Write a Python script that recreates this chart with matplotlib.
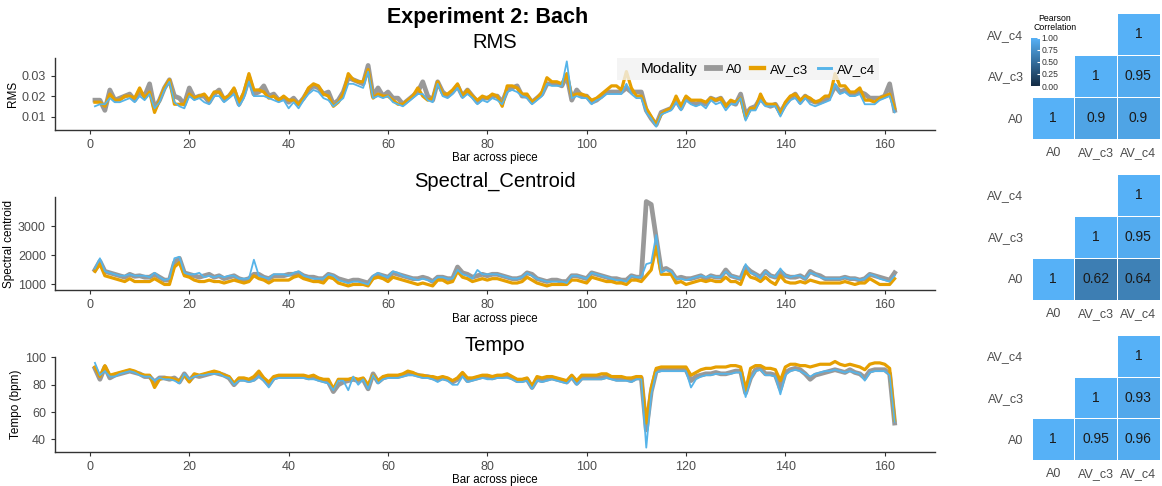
import matplotlib
matplotlib.use("Agg")
import matplotlib.pyplot as plt
import numpy as np
from matplotlib.colors import LinearSegmentedColormap
from matplotlib.lines import Line2D

plt.rcParams["font.family"] = ["Liberation Sans", "DejaVu Sans"]

bars = np.arange(1, 163)
modalities = ["A0", "AV_c3", "AV_c4"]
colors = {"A0": "#999999", "AV_c3": "#E69F00", "AV_c4": "#56B4E9"}
widths = {"A0": 3.4, "AV_c3": 2.3, "AV_c4": 1.3}

rms_a0 = [
    .018, .018, .013, .023, .018, .019, .020, .021, .018, .022,
    .020, .026, .014, .018, .024, .028, .020, .019, .016, .024,
    .019, .020, .020, .017, .021, .023, .018, .020, .023, .016,
    .021, .029, .021, .022, .025, .020, .021, .018, .019, .017,
    .019, .016, .019, .023, .025, .024, .021, .022, .016, .018,
    .022, .029, .028, .027, .026, .035, .020, .024, .020, .022,
    .019, .019, .016, .018, .020, .022, .027, .020, .018, .027,
    .022, .020, .022, .025, .020, .023, .020, .017, .019, .019,
    .020, .020, .017, .023, .024, .025, .020, .020, .017, .019,
    .021, .026, .026, .026, .025, .030, .018, .023, .020, .020,
    .017, .018, .020, .022, .022, .022, .022, .024, .022, .022,
    .022, .013, .009, .006, .012, .013, .014, .018, .014, .019,
    .017, .016, .017, .016, .019, .018, .019, .015, .017, .016,
    .021, .011, .014, .015, .019, .016, .015, .016, .012, .016,
    .019, .021, .017, .020, .018, .017, .017, .018, .020, .025,
    .022, .023, .021, .021, .022, .021, .019, .019, .019, .020,
    .026, .013]
rms_c3 = [
    .017, .017, .015, .021, .018, .018, .020, .020, .019, .024,
    .019, .022, .012, .018, .024, .028, .016, .016, .016, .021,
    .019, .020, .021, .018, .022, .022, .019, .020, .024, .017,
    .022, .031, .023, .023, .022, .019, .020, .018, .020, .018,
    .018, .016, .019, .024, .026, .025, .021, .020, .015, .017,
    .021, .031, .028, .027, .027, .033, .019, .021, .020, .020,
    .018, .016, .016, .018, .020, .024, .020, .018, .019, .027,
    .021, .021, .023, .026, .020, .023, .020, .018, .020, .019,
    .021, .020, .015, .025, .025, .024, .021, .021, .017, .019,
    .022, .029, .027, .027, .026, .031, .020, .021, .021, .020,
    .018, .019, .021, .023, .025, .025, .023, .032, .024, .020,
    .020, .014, .010, .006, .011, .013, .014, .020, .015, .020,
    .018, .018, .018, .017, .019, .018, .019, .015, .018, .017,
    .019, .009, .014, .014, .021, .016, .016, .016, .011, .017,
    .020, .021, .018, .020, .019, .017, .018, .020, .020, .031,
    .025, .025, .022, .022, .024, .018, .018, .017, .019, .020,
    .021, .014]
rms_c4 = [
    .015, .016, .016, .019, .017, .017, .018, .019, .017, .020,
    .018, .021, .014, .017, .023, .027, .017, .015, .014, .020,
    .018, .019, .017, .016, .020, .020, .017, .019, .021, .015,
    .019, .027, .020, .020, .020, .019, .018, .017, .018, .014,
    .017, .014, .018, .021, .023, .022, .019, .018, .015, .017,
    .019, .026, .026, .025, .024, .032, .019, .020, .019, .020,
    .017, .016, .015, .017, .019, .021, .021, .018, .017, .026,
    .020, .019, .021, .024, .019, .021, .019, .016, .018, .017,
    .019, .018, .016, .022, .023, .022, .020, .019, .016, .018,
    .020, .026, .025, .025, .025, .037, .019, .020, .019, .019,
    .016, .018, .019, .021, .021, .021, .021, .026, .021, .019,
    .019, .012, .009, .005, .011, .012, .013, .017, .013, .018,
    .016, .015, .016, .014, .018, .016, .017, .013, .016, .016,
    .019, .008, .013, .013, .018, .015, .015, .015, .010, .015,
    .018, .019, .016, .019, .016, .015, .016, .017, .018, .026,
    .021, .022, .020, .020, .021, .016, .016, .016, .018, .019,
    .020, .012]

sc_a0 = [
    1500, 1800, 1450, 1400, 1350, 1300, 1250, 1350, 1280, 1300,
    1250, 1250, 1350, 1250, 1150, 1150, 1750, 1900, 1400, 1350,
    1300, 1250, 1300, 1350, 1250, 1300, 1200, 1250, 1300, 1200,
    1150, 1200, 1350, 1350, 1250, 1200, 1300, 1300, 1300, 1350,
    1350, 1400, 1300, 1250, 1250, 1200, 1200, 1350, 1300, 1200,
    1150, 1100, 1150, 1150, 1100, 1050, 1250, 1350, 1300, 1250,
    1400, 1350, 1300, 1250, 1200, 1200, 1250, 1200, 1100, 1250,
    1250, 1200, 1200, 1600, 1400, 1350, 1250, 1300, 1350, 1300,
    1350, 1350, 1300, 1250, 1200, 1200, 1250, 1400, 1350, 1200,
    1150, 1100, 1150, 1150, 1100, 1100, 1300, 1300, 1250, 1200,
    1400, 1350, 1300, 1250, 1200, 1200, 1150, 1150, 1300, 1250,
    1250, 3850, 3750, 2600, 1500, 1550, 1450, 1200, 1250, 1200,
    1200, 1250, 1300, 1200, 1300, 1250, 1250, 1500, 1300, 1250,
    1200, 1600, 1450, 1350, 1250, 1450, 1300, 1250, 1450, 1300,
    1250, 1250, 1300, 1200, 1450, 1350, 1300, 1200, 1200, 1200,
    1200, 1250, 1200, 1200, 1150, 1200, 1350, 1300, 1250, 1200,
    1150, 1400]
sc_c3 = [
    1450, 1700, 1300, 1250, 1200, 1150, 1100, 1200, 1100, 1100,
    1100, 1100, 1200, 1100, 1000, 1000, 1600, 1750, 1300, 1250,
    1150, 1100, 1100, 1150, 1100, 1100, 1050, 1100, 1150, 1100,
    1050, 1100, 1300, 1200, 1150, 1050, 1150, 1150, 1150, 1150,
    1250, 1300, 1200, 1150, 1100, 1100, 1050, 1250, 1200, 1050,
    1000, 950, 1000, 1000, 1000, 950, 1200, 1250, 1200, 1100,
    1250, 1200, 1150, 1100, 1050, 1000, 1050, 1000, 950, 1150,
    1150, 1050, 1100, 1450, 1250, 1200, 1100, 1150, 1200, 1150,
    1200, 1200, 1150, 1100, 1050, 1050, 1100, 1250, 1150, 1050,
    1000, 950, 1000, 1000, 1000, 1000, 1150, 1150, 1100, 1050,
    1250, 1200, 1150, 1100, 1100, 1050, 1050, 1000, 1150, 1150,
    1100, 1300, 1500, 2300, 1350, 1350, 1350, 1050, 1100, 1000,
    1050, 1100, 1150, 1100, 1150, 1100, 1100, 1250, 1100, 1100,
    1000, 1450, 1250, 1200, 1100, 1250, 1100, 1000, 1300, 1100,
    1050, 1050, 1100, 1050, 1150, 1100, 1050, 1050, 1050, 1050,
    1050, 1100, 1050, 1000, 1050, 1050, 1200, 1100, 1000, 1000,
    1000, 1200]
sc_c4 = [
    1550, 1900, 1450, 1400, 1350, 1300, 1300, 1350, 1300, 1300,
    1300, 1250, 1400, 1250, 1150, 1200, 1900, 1950, 1400, 1350,
    1350, 1400, 1250, 1300, 1250, 1300, 1250, 1300, 1300, 1200,
    1200, 1200, 1850, 1300, 1250, 1200, 1350, 1350, 1350, 1300,
    1400, 1450, 1300, 1250, 1200, 1200, 1200, 1350, 1300, 1150,
    1100, 1050, 1100, 1100, 1050, 1000, 1300, 1400, 1300, 1250,
    1450, 1400, 1300, 1250, 1200, 1150, 1200, 1150, 1100, 1250,
    1250, 1200, 1200, 1500, 1350, 1300, 1200, 1500, 1350, 1350,
    1350, 1350, 1300, 1250, 1200, 1200, 1250, 1400, 1300, 1200,
    1150, 1100, 1100, 1100, 1100, 1050, 1300, 1300, 1250, 1200,
    1400, 1350, 1300, 1250, 1200, 1150, 1150, 1100, 1300, 1250,
    1250, 1700, 1750, 2700, 1400, 1500, 1450, 1200, 1200, 1150,
    1200, 1250, 1300, 1250, 1300, 1250, 1250, 1450, 1300, 1250,
    1200, 1700, 1400, 1350, 1200, 1450, 1300, 1250, 1550, 1300,
    1250, 1300, 1300, 1200, 1400, 1350, 1250, 1200, 1200, 1200,
    1200, 1250, 1200, 1200, 1150, 1200, 1350, 1300, 1200, 1150,
    1100, 1300]

tempo_a0 = [
    92, 84, 93, 85, 87, 88, 89, 90, 89, 88,
    86, 86, 82, 85, 85, 84, 85, 82, 88, 83,
    87, 86, 87, 88, 89, 88, 87, 85, 80, 84,
    84, 83, 84, 87, 84, 80, 85, 86, 86, 86,
    86, 86, 86, 85, 86, 84, 83, 82, 75, 80,
    82, 83, 84, 83, 84, 77, 88, 82, 85, 86,
    86, 86, 87, 88, 88, 87, 86, 86, 85, 84,
    85, 84, 82, 84, 88, 83, 84, 85, 86, 86,
    85, 86, 86, 87, 85, 83, 83, 84, 78, 84,
    83, 84, 85, 84, 83, 82, 86, 81, 85, 85,
    85, 85, 85, 86, 85, 84, 84, 84, 83, 85,
    85, 47, 75, 90, 91, 91, 91, 91, 91, 91,
    83, 86, 87, 88, 88, 89, 88, 88, 89, 90,
    90, 74, 85, 91, 92, 88, 88, 87, 77, 89,
    91, 92, 91, 88, 84, 87, 88, 89, 90, 91,
    90, 89, 91, 89, 88, 85, 90, 91, 91, 91,
    88, 52]
tempo_c3 = [
    93, 86, 94, 87, 88, 89, 90, 91, 90, 88,
    87, 87, 78, 84, 85, 85, 84, 83, 87, 82,
    88, 87, 88, 89, 90, 89, 87, 86, 81, 85,
    85, 84, 86, 90, 85, 82, 86, 87, 87, 87,
    87, 87, 87, 86, 87, 85, 84, 84, 77, 84,
    84, 84, 85, 84, 85, 80, 87, 83, 86, 87,
    87, 87, 88, 90, 89, 87, 87, 86, 86, 85,
    86, 85, 83, 85, 89, 85, 85, 86, 87, 87,
    86, 87, 87, 88, 86, 84, 84, 85, 79, 86,
    85, 86, 86, 85, 84, 83, 87, 83, 87, 87,
    87, 87, 88, 88, 86, 86, 86, 85, 85, 86,
    86, 52, 78, 92, 93, 93, 93, 93, 93, 93,
    87, 89, 91, 92, 92, 93, 93, 93, 94, 94,
    93, 76, 92, 94, 94, 92, 92, 91, 83, 93,
    95, 95, 94, 94, 93, 94, 95, 95, 95, 97,
    95, 94, 95, 94, 93, 91, 95, 96, 96, 95,
    92, 54]
tempo_c4 = [
    96, 87, 90, 86, 86, 88, 89, 90, 89, 87,
    86, 86, 83, 85, 84, 84, 83, 81, 88, 84,
    86, 87, 87, 88, 88, 88, 86, 85, 80, 83,
    83, 82, 83, 86, 83, 78, 84, 85, 85, 85,
    85, 85, 85, 84, 84, 83, 82, 81, 76, 83,
    83, 76, 86, 80, 84, 77, 87, 81, 84, 85,
    85, 85, 86, 87, 87, 86, 85, 85, 84, 82,
    84, 83, 80, 80, 86, 82, 83, 84, 85, 84,
    84, 85, 85, 85, 84, 82, 82, 83, 77, 83,
    82, 83, 84, 83, 82, 81, 85, 80, 84, 84,
    84, 84, 84, 85, 84, 83, 83, 83, 82, 84,
    84, 34, 73, 89, 90, 90, 90, 90, 90, 90,
    78, 84, 86, 87, 87, 88, 88, 88, 88, 89,
    89, 71, 84, 90, 91, 87, 87, 86, 73, 87,
    90, 91, 90, 88, 86, 88, 89, 90, 90, 91,
    90, 89, 90, 89, 88, 83, 89, 90, 90, 90,
    87, 53]

# pairwise Pearson correlations: (A0-c3, A0-c4, c3-c4)
corr_rms = [0.9, 0.9, 0.95]
corr_sc = [0.62, 0.64, 0.95]
corr_tempo = [0.95, 0.96, 0.93]

panels = [
    ("RMS", "RMS", [rms_a0, rms_c3, rms_c4], [0.01, 0.02, 0.03], corr_rms),
    ("Spectral_Centroid", "Spectral centroid", [sc_a0, sc_c3, sc_c4], [1000, 2000, 3000], corr_sc),
    ("Tempo", "Tempo (bpm)", [tempo_a0, tempo_c3, tempo_c4], [40, 60, 80, 100], corr_tempo),
]

line_pos = [[0.0473, 0.7325, 0.757, 0.148],
            [0.0473, 0.403, 0.757, 0.191],
            [0.0473, 0.070, 0.757, 0.195]]
heat_pos = [[0.888, 0.714, 0.110, 0.259],
            [0.888, 0.383, 0.110, 0.259],
            [0.888, 0.0535, 0.110, 0.257]]
sub_y = [0.912, 0.626, 0.290]

cmap = LinearSegmentedColormap.from_list("gg", ["#132B43", "#56B1F7"])
tick_col = "#4D4D4D"

fig = plt.figure(figsize=(11.62, 4.86), dpi=100)
fig.text(0.42, 0.965, "Experiment 2: Bach", ha="center", va="center",
         fontsize=15.5, fontweight="bold")

for k, (title, ylab, series, yticks, corr) in enumerate(panels):
    ax = fig.add_axes(line_pos[k])
    for name, vals in zip(modalities, series):
        ax.plot(bars, vals, color=colors[name], lw=widths[name], label=name,
                solid_joinstyle="round")
    ax.set_xticks(np.arange(0, 161, 20))
    ax.set_yticks(yticks)
    ax.set_xlabel("Bar across piece", fontsize=8.3, labelpad=1)
    ax.set_ylabel(ylab, fontsize=8.5, labelpad=2)
    ax.tick_params(labelsize=9, colors="#333333", labelcolor=tick_col, length=3, width=0.8)
    for s in ["top", "right"]:
        ax.spines[s].set_visible(False)
    for s in ["left", "bottom"]:
        ax.spines[s].set_color("#333333")
        ax.spines[s].set_linewidth(1.0)
    fig.text(0.426, sub_y[k], title, ha="center", va="center", fontsize=14.5)

    # correlation heatmap, lower triangle shown as upper-right staircase
    hx = fig.add_axes(heat_pos[k])
    mat = np.full((3, 3), np.nan)
    np.fill_diagonal(mat, 1.0)
    mat[0, 1], mat[0, 2], mat[1, 2] = corr
    masked = np.ma.masked_invalid(mat)
    hx.pcolormesh(np.arange(4), np.arange(4), masked, cmap=cmap, vmin=0, vmax=1,
                  edgecolors="white", linewidth=0.4)
    for i in range(3):
        for j in range(3):
            if not np.isnan(mat[i, j]):
                hx.text(j + 0.5, i + 0.5, f"{mat[i, j]:g}", ha="center", va="center",
                        fontsize=10, color="#1a1a1a")
    hx.set_xlim(0, 3)
    hx.set_ylim(0, 3)
    hx.set_xticks(np.arange(3) + 0.5)
    hx.set_xticklabels(modalities)
    hx.set_yticks(np.arange(3) + 0.5)
    hx.set_yticklabels(modalities)
    hx.tick_params(length=0, labelsize=9, labelcolor=tick_col, pad=6)
    for s in hx.spines.values():
        s.set_visible(False)

    if k == 0:
        cax = fig.add_axes([0.8872, 0.823, 0.0074, 0.099])
        sm = plt.cm.ScalarMappable(cmap=cmap, norm=plt.Normalize(0, 1))
        cb = fig.colorbar(sm, cax=cax, ticks=[0, 0.25, 0.5, 0.75, 1.0])
        cb.ax.set_yticklabels(["0.00", "0.25", "0.50", "0.75", "1.00"])
        cb.ax.tick_params(labelsize=6.2, length=2, color="white", direction="in",
                          pad=1.5, labelcolor="#333333")
        cb.outline.set_visible(False)
        fig.text(0.908, 0.953, "Pearson\nCorrelation", ha="center", va="center",
                 fontsize=6.3, linespacing=0.95)

handles = [Line2D([], [], color="none")] + [
    Line2D([], [], color=colors[m], lw=widths[m] + 0.8) for m in modalities]
labels = ["Modality"] + modalities
leg = fig.legend(handles, labels, loc="upper right", bbox_to_anchor=(0.762, 0.895),
                 ncol=4, frameon=True, fontsize=9.5, handlelength=1.0,
                 handletextpad=0.45, columnspacing=0.7, borderpad=0.3,
                 fancybox=False)
leg.get_frame().set_facecolor("#F2F2F2")
leg.get_frame().set_edgecolor("none")
leg.get_texts()[0].set_fontsize(11)

fig.savefig("out.png", dpi=100)
